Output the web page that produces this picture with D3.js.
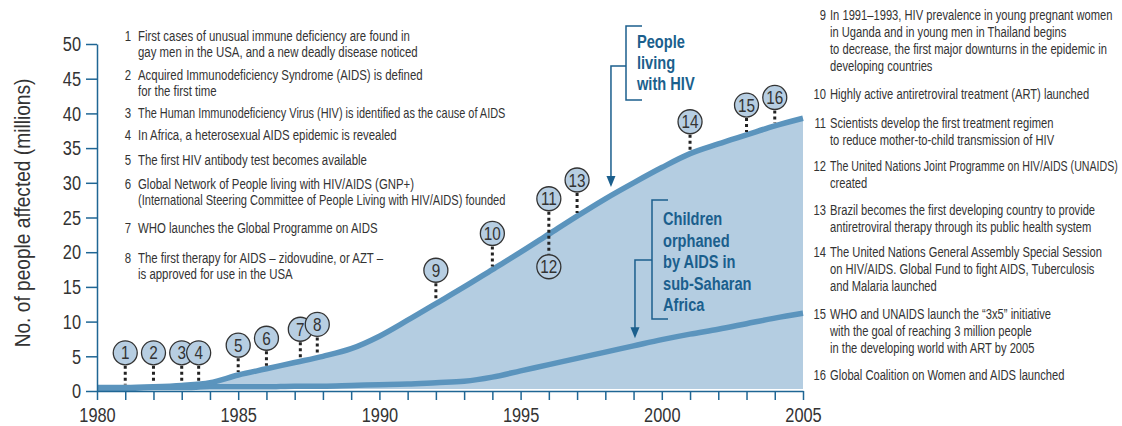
<!DOCTYPE html>
<html>
<head>
<meta charset="utf-8">
<script src="https://cdn.jsdelivr.net/npm/d3@7"></script>
<style>
  body { margin: 0; background: #fff; }
  svg { display: block; }
  text { font-family: "Liberation Sans", Arial, sans-serif; }
</style>
</head>
<body>
<div id="chart"></div>
<script>
// values, millions
const years = [1980, 1981, 1982, 1983, 1984, 1985, 1986, 1987, 1988, 1989, 1990, 1991, 1992,
    1993, 1994, 1995, 1996, 1997, 1998, 1999, 2000, 2001, 2002, 2003, 2004, 2005];
const hivValues = [0.5, 0.5, 0.6, 0.8, 1.2, 2.3, 3.2, 4.1, 5.0, 6.1, 7.9, 10.2, 12.6,
    15.0, 17.5, 20.0, 22.6, 25.2, 27.7, 30.0, 32.2, 34.2, 35.6, 36.9, 38.2, 39.3];
const orphanValues = [0.4, 0.4, 0.5, 0.5, 0.6, 0.6, 0.6, 0.7, 0.7, 0.8, 0.9, 1.0, 1.2,
    1.4, 2.0, 2.9, 3.8, 4.7, 5.6, 6.5, 7.4, 8.2, 8.9, 9.7, 10.5, 11.2];

const yTicks = [0, 5, 10, 15, 20, 25, 30, 35, 40, 45, 50];
const xLabelYears = [1980, 1985, 1990, 1995, 2000, 2005];

// event markers: year and height of the bubble (in millions)
const eventYears = [1981, 1982, 1983, 1983.6, 1985, 1986, 1987.2, 1987.8, 1992, 1994, 1996, 1996, 1997, 2001, 2003, 2004];
const eventLevels = [5.5, 5.5, 5.5, 5.5, 6.6, 7.6, 8.9, 9.6, 17.4, 22.7, 27.7, 17.9, 30.4, 38.8, 41.2, 42.3];

const hivLabel = ["People", "living", "with HIV"];
const orphanLabel = ["Children", "orphaned", "by AIDS in", "sub-Saharan", "Africa"];

const leftNotes = [
    ["First cases of unusual immune deficiency are found in", "gay men in the USA, and a new deadly disease noticed"],
    ["Acquired Immunodeficiency Syndrome (AIDS) is defined", "for the first time"],
    ["The Human Immunodeficiency Virus (HIV) is identified as the cause of AIDS"],
    ["In Africa, a heterosexual AIDS epidemic is revealed"],
    ["The first HIV antibody test becomes available"],
    ["Global Network of People living with HIV/AIDS (GNP+)", "(International Steering Committee of People Living with HIV/AIDS) founded"],
    ["WHO launches the Global Programme on AIDS"],
    ["The first therapy for AIDS \u2013 zidovudine, or AZT \u2013", "is approved for use in the USA"]
];
const rightNotes = [
    ["In 1991\u20131993, HIV prevalence in young pregnant women", "in Uganda and in young men in Thailand begins",
     "to decrease, the first major downturns in the epidemic in", "developing countries"],
    ["Highly active antiretroviral treatment (ART) launched"],
    ["Scientists develop the first treatment regimen", "to reduce mother-to-child transmission of HIV"],
    ["The United Nations Joint Programme on HIV/AIDS (UNAIDS)", "created"],
    ["Brazil becomes the first developing country to provide", "antiretroviral therapy through its public health system"],
    ["The United Nations General Assembly Special Session", "on HIV/AIDS. Global Fund to fight AIDS, Tuberculosis", "and Malaria launched"],
    ["WHO and UNAIDS launch the \u201c3x5\u201d initiative", "with the goal of reaching 3 million people", "in the developing world with ART by 2005"],
    ["Global Coalition on Women and AIDS launched"]
];

const data = years.map((yr, i) => ({ year: yr, hiv: hivValues[i], orphans: orphanValues[i] }));

const W = 1122, H = 426;
const margin = { top: 44, right: 319, bottom: 35, left: 97 };

const axisColor = "#1f6694";
const labelColor = "#1b5f8d";
const textColor = "#333";

const x = d3.scaleLinear().domain([1980, 2005]).range([margin.left, W - margin.right]);
const y = d3.scaleLinear().domain([0, 50]).range([H - margin.bottom, margin.top]);
const hivAt = d3.scaleLinear().domain(years).range(hivValues);

const svg = d3.select("#chart").append("svg")
    .attr("width", W)
    .attr("height", H);

// the source uses a condensed face, so squeeze text horizontally
function label(parent, px, py, str, size, k, anchor, maxW) {
    const t = parent.append("text")
        .attr("text-anchor", anchor || "start")
        .attr("fill", textColor)
        .style("font-size", size + "px")
        .text(str);
    if (maxW) {
        const len = t.node().getComputedTextLength();
        if (len * k > maxW) k = maxW / len;
    }
    return t.attr("transform", `translate(${px}, ${py}) scale(${k}, 1)`);
}

// area under people living with HIV
const area = d3.area()
    .x(d => x(d.year))
    .y0(y(0) - 2)
    .y1(d => y(d.hiv))
    .curve(d3.curveMonotoneX);

svg.append("path")
    .datum(data)
    .attr("fill", "#b4cde1")
    .attr("d", area);

const lineHiv = d3.line().x(d => x(d.year)).y(d => y(d.hiv)).curve(d3.curveMonotoneX);
const lineOrph = d3.line().x(d => x(d.year)).y(d => y(d.orphans)).curve(d3.curveMonotoneX);

svg.append("path")
    .datum(data)
    .attr("fill", "none")
    .attr("stroke", "#5b94bd")
    .attr("stroke-width", 5.5)
    .attr("d", lineOrph);

svg.append("path")
    .datum(data)
    .attr("fill", "none")
    .attr("stroke", "#5b94bd")
    .attr("stroke-width", 5.5)
    .attr("d", lineHiv);

// axes
const xAxis = svg.append("g")
    .attr("transform", `translate(0, ${y(0)})`)
    .call(d3.axisBottom(x)
        .tickValues(years)
        .tickSize(9)
        .tickSizeOuter(0)
        .tickPadding(7)
        .tickFormat(d => xLabelYears.includes(d) ? d : ""));

const yAxis = svg.append("g")
    .attr("transform", `translate(${margin.left}, 0)`)
    .call(d3.axisLeft(y)
        .tickValues(yTicks)
        .tickSize(11)
        .tickSizeOuter(0)
        .tickPadding(5));

[xAxis, yAxis].forEach(g => {
    g.selectAll("path, line").attr("stroke", axisColor).attr("stroke-width", 1.5);
    g.selectAll("text").each(function () {
        const t = d3.select(this);
        const tx = +t.attr("x") || 0, ty = +t.attr("y") || 0;
        t.attr("x", null).attr("y", null)
            .attr("transform", `translate(${tx}, ${ty}) scale(0.78, 1)`)
            .attr("fill", textColor)
            .style("font-size", "21px")
            .style("font-family", '"Liberation Sans", Arial, sans-serif');
    });
});

// y-axis title
svg.append("text")
    .attr("transform", `translate(30, 213) rotate(-90) scale(0.87, 1)`)
    .attr("text-anchor", "middle")
    .attr("fill", textColor)
    .style("font-size", "22px")
    .text("No. of people affected (millions)");

// event bubbles with dotted stems
const r = 12;
const events = eventYears.map((yr, i) => ({ id: i + 1, year: yr, level: eventLevels[i] }));

events.forEach(ev => {
    const curve = hivAt(ev.year);
    if (ev.level < curve) return;
    const below = events.find(o => o !== ev && o.year === ev.year && o.level < ev.level);
    const yEnd = below ? y(below.level) - r : y(curve) - 3;
    svg.append("line")
        .attr("x1", x(ev.year))
        .attr("x2", x(ev.year))
        .attr("y1", y(ev.level) + r + 1)
        .attr("y2", yEnd)
        .attr("stroke", "#222")
        .attr("stroke-width", 3)
        .attr("stroke-dasharray", "3,3");
});

const bubbles = svg.selectAll(".bubble")
    .data(events)
    .enter().append("g")
    .attr("class", "bubble")
    .attr("transform", d => `translate(${x(d.year)}, ${y(d.level)})`);

bubbles.append("circle")
    .attr("r", r)
    .attr("fill", "#b7cee2")
    .attr("stroke", "#333")
    .attr("stroke-width", 1.3);

bubbles.each(function (d) {
    label(d3.select(this), 0, 6.5, d.id, 18, 0.85, "middle");
});

// series labels with bracket and arrow
function seriesLabel(lines, tx, baseY, lineH, bracket, tip) {
    const g = svg.append("g");
    lines.forEach((t, i) => {
        label(g, tx, baseY + i * lineH, t, 19, 0.77)
            .attr("fill", labelColor)
            .style("font-weight", "bold");
    });
    const [bx, top, bottom, mid] = bracket;
    g.append("path")
        .attr("fill", "none")
        .attr("stroke", labelColor)
        .attr("stroke-width", 1.5)
        .attr("d", `M${bx + 16},${top}H${bx}V${bottom}H${bx + 16}M${bx},${mid}H${x(tip[0])}V${y(tip[1]) - 9}`);
    const tx0 = x(tip[0]), ty0 = y(tip[1]);
    g.append("path")
        .attr("fill", labelColor)
        .attr("d", `M${tx0 - 4.5},${ty0 - 11}L${tx0 + 4.5},${ty0 - 11}L${tx0},${ty0}Z`);
}

seriesLabel(hivLabel, 637, 48, 21, [626, 26, 100, 66], [1998.2, 29.4]);
seriesLabel(orphanLabel, 663, 225, 21.5, [652, 200, 319, 260], [1999.05, 7.6]);

// notes
function notes(list, firstNum, startYs, numX, textX, lineH, size, k, maxW) {
    list.forEach((lines, i) => {
        label(svg, numX, startYs[i], firstNum + i, size, k, "end");
        lines.forEach((t, j) => label(svg, textX, startYs[i] + j * lineH, t, size, k, "start", maxW));
    });
}

notes(leftNotes, 1, [41, 80, 118, 140, 165, 189, 233, 263], 131, 138, 16, 14, 0.815, 368);
notes(rightNotes, 9, [20, 99, 128, 171, 215, 257, 319, 380], 826, 830, 17, 15, 0.745, 288);
</script>
</body>
</html>
